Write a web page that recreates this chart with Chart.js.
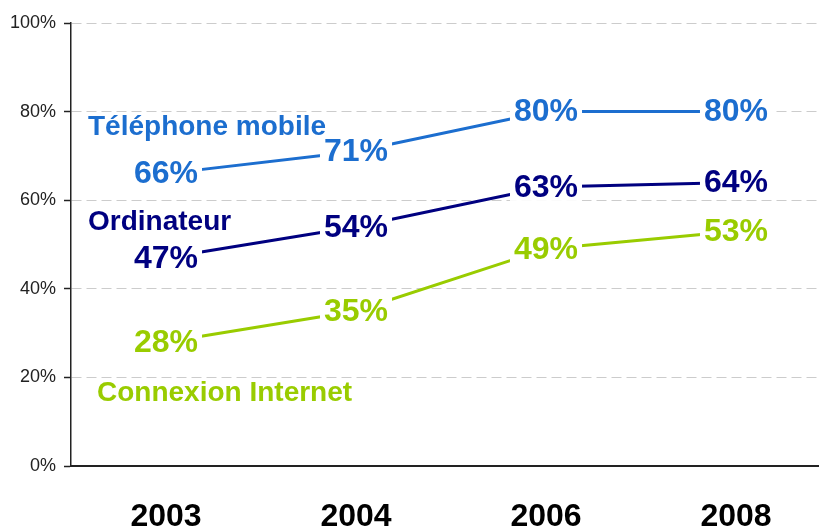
<!DOCTYPE html>
<html>
<head>
<meta charset="utf-8">
<script src="https://cdn.jsdelivr.net/npm/chart.js@4"></script>
<style>
  html, body { margin: 0; padding: 0; background: #fff; overflow: hidden; }
  canvas { display: block; }
</style>
</head>
<body>
<canvas id="myChart" width="840" height="529"></canvas>
<script>
let years = ['2003', '2004', '2006', '2008'];

let seriesNames = ['Téléphone mobile', 'Ordinateur', 'Connexion Internet'];

let mobile = [66, 71, 80, 80];
let ordinateur = [47, 54, 63, 64];
let internet = [28, 35, 49, 53];

let colors1 = ['#1C6ECF', '#000080', '#99CC00'];

let yTicks = [0, 20, 40, 60, 80, 100];

// where the series names sit: offset from the y axis (px) and the value they line up with
let nameSpots = [
    { dx: 17, v: 76.4 },
    { dx: 17, v: 55.0 },
    { dx: 26, v: 16.5 }
];

let labelPlugin = {
    id: 'pointLabels',
    afterDatasetsDraw(chart) {
        let ctx = chart.ctx;
        ctx.save();
        ctx.font = 'bold 32px "Liberation Sans", Arial, sans-serif';
        ctx.textAlign = 'center';
        ctx.textBaseline = 'middle';
        chart.data.datasets.forEach((ds, i) => {
            let meta = chart.getDatasetMeta(i);
            meta.data.forEach((pt, j) => {
                let txt = ds.data[j] + '%';
                let w = ctx.measureText(txt).width;
                ctx.fillStyle = '#fff';
                ctx.fillRect(pt.x - w / 2 - 4, pt.y - 14, w + 8, 28);
                ctx.fillStyle = ds.borderColor;
                ctx.fillText(txt, pt.x, pt.y + 1);
            });
        });
        // series names
        ctx.font = 'bold 28px "Liberation Sans", Arial, sans-serif';
        ctx.textAlign = 'left';
        let y = chart.scales.y;
        seriesNames.forEach((name, i) => {
            ctx.fillStyle = colors1[i];
            ctx.fillText(name, chart.chartArea.left + nameSpots[i].dx, y.getPixelForValue(nameSpots[i].v));
        });
        ctx.restore();
    }
};

let myChart = document.getElementById('myChart').getContext('2d');

let chart = new Chart(myChart, {
    type: 'line',
    data: {
        labels: years,
        datasets: [
            { label: seriesNames[0], data: mobile, borderColor: colors1[0] },
            { label: seriesNames[1], data: ordinateur, borderColor: colors1[1] },
            { label: seriesNames[2], data: internet, borderColor: colors1[2] }
        ]
    },
    options: {
        responsive: false,
        animation: false,
        layout: { padding: { top: 23, right: 9, left: 0, bottom: 0 } },
        elements: {
            line: { borderWidth: 3, tension: 0 },
            point: { radius: 0, hoverRadius: 0 }
        },
        scales: {
            x: {
                offset: true,
                grid: { display: false },
                border: { display: true, color: '#222', width: 2 },
                ticks: {
                    padding: 24,
                    color: '#000',
                    font: { family: '"Liberation Sans", Arial, sans-serif', size: 32, weight: 'bold' }
                },
                afterFit(scale) { scale.height = 63; }
            },
            y: {
                min: 0,
                max: 100,
                afterBuildTicks(scale) { scale.ticks = yTicks.map(v => ({ value: v })); },
                grid: {
                    color: ctx => ctx.tick && ctx.tick.value === 0 ? 'rgba(0,0,0,0)' : '#cccccc',
                    lineWidth: 1,
                    tickLength: 7,
                    tickColor: '#222',
                    tickWidth: 1.5
                },
                border: { display: true, color: '#222', width: 1.5, dash: [10, 5] },
                ticks: {
                    padding: 8,
                    color: '#222',
                    font: { family: '"Liberation Sans", Arial, sans-serif', size: 18 },
                    callback: v => v + '%'
                },
                afterFit(scale) { scale.width = 71; }
            }
        },
        plugins: {
            legend: { display: false },
            tooltip: { enabled: false }
        }
    },
    plugins: [labelPlugin]
});
</script>
</body>
</html>
